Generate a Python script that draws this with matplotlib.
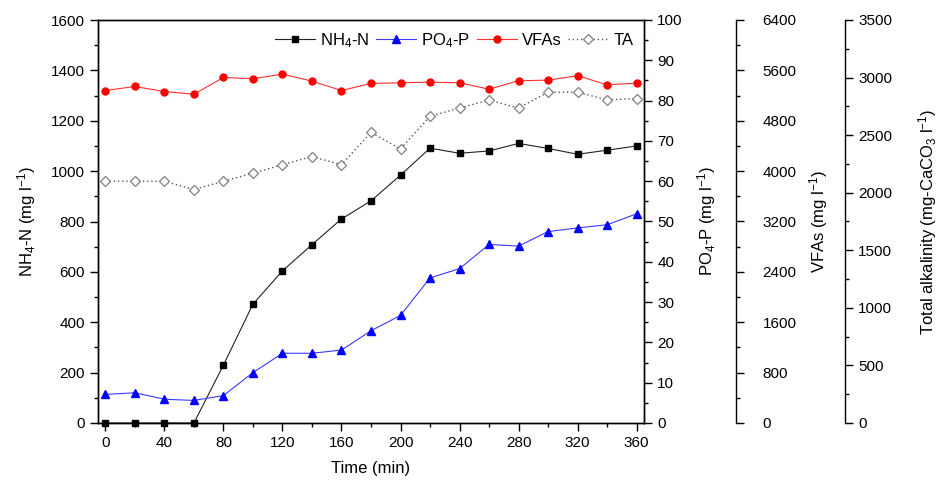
import matplotlib
matplotlib.use("Agg")
import matplotlib.pyplot as plt
from matplotlib.ticker import MultipleLocator

plt.rcParams['font.family'] = ['Liberation Sans', 'DejaVu Sans']
plt.rcParams['mathtext.fontset'] = 'custom'
plt.rcParams['mathtext.rm'] = 'Liberation Sans'
plt.rcParams['mathtext.it'] = 'Liberation Sans:italic'
plt.rcParams['mathtext.bf'] = 'Liberation Sans:bold'
plt.rcParams['font.size'] = 11

time_min = [0, 20, 40, 60, 80, 100, 120, 140, 160, 180, 200, 220, 240, 260, 280, 300, 320, 340, 360]
nh4_n = [0, 0, 0, 0, 230, 472, 604, 708, 810, 882, 984, 1091, 1071, 1080, 1110, 1090, 1067, 1083, 1100]
po4_p = [7.1, 7.5, 5.9, 5.6, 6.8, 12.5, 17.3, 17.3, 18.1, 22.9, 26.7, 36.0, 38.3, 44.3, 43.9, 47.5, 48.4, 49.2, 51.9]
vfas = [5280, 5344, 5264, 5221, 5488, 5467, 5541, 5429, 5280, 5392, 5403, 5413, 5403, 5301, 5435, 5445, 5515, 5371, 5397]
ta = [2100, 2100, 2100, 2027, 2100, 2170, 2243, 2314, 2243, 2523, 2380, 2663, 2736, 2803, 2736, 2873, 2873, 2806, 2818]

fig = plt.figure(figsize=(9.41, 4.88), dpi=100)
ax = fig.add_axes([98/941, 1-423/488, (644-98)/941, (423-20)/488])
ax2 = ax.twinx()
ax3 = ax.twinx()
ax4 = ax.twinx()

tick_kw = dict(direction='out', length=6, width=1)
mtick_kw = dict(direction='out', length=3, width=1)

# main axis
l1, = ax.plot(time_min, nh4_n, color='#222222', lw=0.8, marker='s', ms=4.2,
              mfc='black', mec='black', label='NH$_4$-N', clip_on=False, zorder=5)
ax.set_xlim(-5, 365)
ax.set_ylim(0, 1600)
ax.xaxis.set_major_locator(MultipleLocator(40))
ax.xaxis.set_minor_locator(MultipleLocator(20))
ax.yaxis.set_major_locator(MultipleLocator(200))
ax.yaxis.set_minor_locator(MultipleLocator(100))
ax.tick_params(which='major', **tick_kw)
ax.tick_params(which='minor', **mtick_kw)
ax.tick_params(top=False, right=False, which='both')
ax.set_xlabel('Time (min)', fontsize=12, labelpad=8)
ax.set_ylabel('NH$_4$-N (mg l$^{-1}$)', fontsize=12, labelpad=9.5)

# PO4 axis
l2, = ax2.plot(time_min, po4_p, color='#3a3aff', lw=0.8, marker='^', ms=5.2,
               mfc='#0000ff', mec='#0000ff', label='PO$_4$-P', clip_on=False)
ax2.set_ylim(0, 100)
ax2.yaxis.set_major_locator(MultipleLocator(10))
ax2.yaxis.set_minor_locator(MultipleLocator(5))
ax2.tick_params(which='major', **tick_kw)
ax2.tick_params(which='minor', **mtick_kw)
ax2.set_ylabel('PO$_4$-P (mg l$^{-1}$)', fontsize=12, labelpad=9)

# VFAs axis
l3, = ax3.plot(time_min, vfas, color='#ff3030', lw=0.8, marker='o', ms=5,
               mfc='#ff0000', mec='#ff0000', label='VFAs', clip_on=False)
ax3.set_ylim(0, 6400)
ax3.spines['right'].set_position(('axes', (736-98)/(644-98)))
ax3.yaxis.set_major_locator(MultipleLocator(800))
ax3.yaxis.set_minor_locator(MultipleLocator(400))
ax3.tick_params(which='major', pad=13, **tick_kw)
ax3.tick_params(which='minor', **mtick_kw)
ax3.set_ylabel('VFAs (mg l$^{-1}$)', fontsize=12, labelpad=8)

# TA axis
l4, = ax4.plot(time_min, ta, color='#555555', lw=1.0, ls=(0, (1, 2)), marker='D', ms=5,
               mfc='white', mec='#808080', mew=0.9, label='TA', clip_on=False)
ax4.set_ylim(0, 3500)
ax4.spines['right'].set_position(('axes', (845-98)/(644-98)))
ax4.yaxis.set_major_locator(MultipleLocator(500))
ax4.yaxis.set_minor_locator(MultipleLocator(250))
ax4.tick_params(which='major', **tick_kw)
ax4.tick_params(which='minor', **mtick_kw)
ax4.set_ylabel('Total alkalinity (mg-CaCO$_3$ l$^{-1}$)', fontsize=12, labelpad=17)

for a in (ax3, ax4):
    for s in ('top', 'bottom', 'left'):
        a.spines[s].set_visible(False)
    a.patch.set_visible(False)
for a in (ax, ax2, ax3, ax4):
    for s in a.spines.values():
        s.set_linewidth(1.0)

ax4.legend(handles=[l1, l2, l3, l4], loc='upper right', ncol=4, frameon=False,
           fontsize=12, handlelength=2.4, handletextpad=0.3, columnspacing=0.4,
           borderaxespad=0.45, borderpad=0.2)

fig.savefig('out.png', dpi=100)
